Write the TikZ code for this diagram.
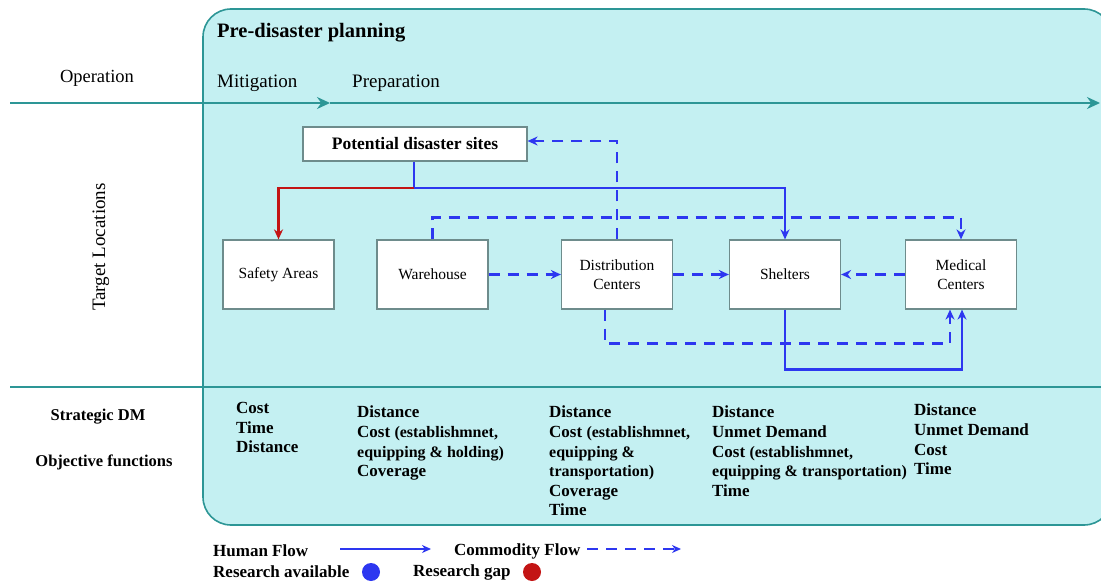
\documentclass[tikz,border=0pt]{standalone}
\usepackage{fontspec}
\setmainfont{Liberation Serif}
\usetikzlibrary{arrows.meta}
\definecolor{tealbg}{RGB}{196,240,242}
\definecolor{tealline}{RGB}{45,150,150}
\definecolor{boxline}{RGB}{110,140,140}
\definecolor{flowblue}{RGB}{45,55,240}
\definecolor{gapred}{RGB}{195,20,20}
\newcommand{\fs}[1]{\fontsize{#1}{#1}\selectfont}
\begin{document}
\begin{tikzpicture}[x=1pt,y=-1pt,
  loc/.style={draw=boxline,line width=1.2pt,fill=white,minimum width=111pt,minimum height=69pt,inner sep=2pt,align=center,font=\fs{15.5}},
  pdsbox/.style={draw=boxline,line width=1.2pt,fill=white,minimum width=224pt,minimum height=34pt,inner sep=2pt,font=\bfseries\fs{17.5}},
  human/.style={draw=flowblue,line width=2.4pt,-{Stealth[length=10pt,width=9pt]}},
  commodity/.style={draw=flowblue,line width=2.4pt,dash pattern=on 11pt off 8pt,-{Stealth[length=10pt,width=9pt]}},
  opline/.style={draw=tealline,line width=1.6pt},
  lbl/.style={inner sep=0pt},
  objcol/.style={inner sep=0pt,anchor=north west,align=left,font=\bfseries\fs{17},text depth=0pt},
  legend/.style={inner sep=0pt,anchor=west,font=\bfseries\fs{17}}
]
\useasboundingbox (0,0) rectangle (1101,583);
% big background panel
\path[fill=tealbg,draw=tealline,line width=1.6pt,rounded corners=28pt] (203,9) rectangle (1112,525);
% operation axis
\coordinate (opL) at (10,103);
\coordinate (opM) at (330,103);
\coordinate (opR) at (1100,103);
\draw[opline,-{Stealth[length=13pt,width=12pt]}] (opL) -- (opM);
\draw[opline,-{Stealth[length=13pt,width=12pt]}] (opM) -- (opR);
% separator line
\coordinate (sepL) at (10,387);
\coordinate (sepR) at (1101,387);
\draw[opline] (sepL) -- (sepR);
% labels left
\node[lbl,font=\fs{18.5}] (operation) at (97,78) {Operation};
\node[lbl,font=\fs{19},rotate=90] (target) at (101,247) {Target Locations};
\node[lbl,font=\bfseries\fs{16.5}] (strat) at (98,417) {Strategic DM};
\node[lbl,font=\bfseries\fs{16.5}] (objf) at (104,462) {Objective functions};
% panel headings
\node[lbl,anchor=west,font=\bfseries\fs{20.5}] (pre) at (217,33) {Pre-disaster planning};
\node[lbl,anchor=west,font=\fs{19}] (mitig) at (217,83) {Mitigation};
\node[lbl,anchor=west,font=\fs{19}] (prep) at (352,83) {Preparation};
% boxes
\node[pdsbox] (pds) at (415,144) {Potential disaster sites};
\node[loc] (sa) at (278.5,274.5) {Safety Areas};
\node[loc] (wh) at (432.5,274.5) {Warehouse};
\node[loc] (dc) at (617,274.5) {Distribution\\[3pt]Centers};
\node[loc] (sh) at (785,274.5) {Shelters};
\node[loc] (mc) at (961,274.5) {Medical\\[3pt]Centers};
% connectors
\coordinate (j) at (414,188);
\draw[commodity] (wh.north) -- ++(0,-22) -| (mc.north);
\draw[commodity] (dc.north) |- ([yshift=3pt]pds.east);
\draw[human] (pds.south -| j) -- (j) -| (sh.north);
\draw[human,draw=gapred] (j) -| (sa.north);
\draw[commodity] (wh.east) -- (dc.west);
\draw[commodity] (dc.east) -- (sh.west);
\draw[commodity] (mc.west) -- (sh.east);
\draw[commodity] ([xshift=-12pt]dc.south) -- ++(0,34) -| ([xshift=-11pt]mc.south);
\draw[human] (sh.south) -- ++(0,60) -| ([xshift=1pt]mc.south);
% objective functions
\node[objcol] (o1) at (236,402) {Cost\\[2.6pt]Time\\[2.6pt]Distance};
\node[objcol] (o2) at (357,406) {Distance\\[2.6pt]Cost {\fs{16}(establishmnet,}\\[2.6pt]{\fs{16}equipping \& holding)}\\[2.6pt]Coverage};
\node[objcol] (o3) at (549,406) {Distance\\[2.6pt]Cost {\fs{16}(establishmnet,}\\[2.6pt]{\fs{16}equipping \&}\\[2.6pt]{\fs{16}transportation)}\\[2.6pt]Coverage\\[2.6pt]Time};
\node[objcol] (o4) at (712,406) {Distance\\[2.6pt]Unmet Demand\\[2.6pt]Cost {\fs{16}(establishmnet,}\\[2.6pt]{\fs{16}equipping \& transportation)}\\[2.6pt]Time};
\node[objcol] (o5) at (914,404) {Distance\\[2.6pt]Unmet Demand\\[2.6pt]Cost\\[2.6pt]Time};
% legend
\node[legend] (lhf) at (213,551) {Human Flow};
\coordinate (lh1) at (340,549);
\coordinate (lh2) at (431,549);
\draw[draw=flowblue,line width=1.6pt,-{Stealth[length=9pt,width=8pt]}] (lh1) -- (lh2);
\node[legend] (lcf) at (454,551) {Commodity Flow};
\coordinate (lc1) at (587,549);
\coordinate (lc2) at (681,549);
\draw[draw=flowblue,line width=1.8pt,dash pattern=on 11pt off 8pt,-{Stealth[length=9pt,width=8pt]}] (lc1) -- (lc2);
\node[legend] (lra) at (213,572) {Research available};
\node[circle,fill=flowblue,minimum size=18pt,inner sep=0pt] (cblue) at (371,572) {};
\node[legend] (lrg) at (413,572) {Research gap};
\node[circle,fill=gapred,minimum size=18pt,inner sep=0pt] (cred) at (532,572) {};
\end{tikzpicture}
\end{document}
